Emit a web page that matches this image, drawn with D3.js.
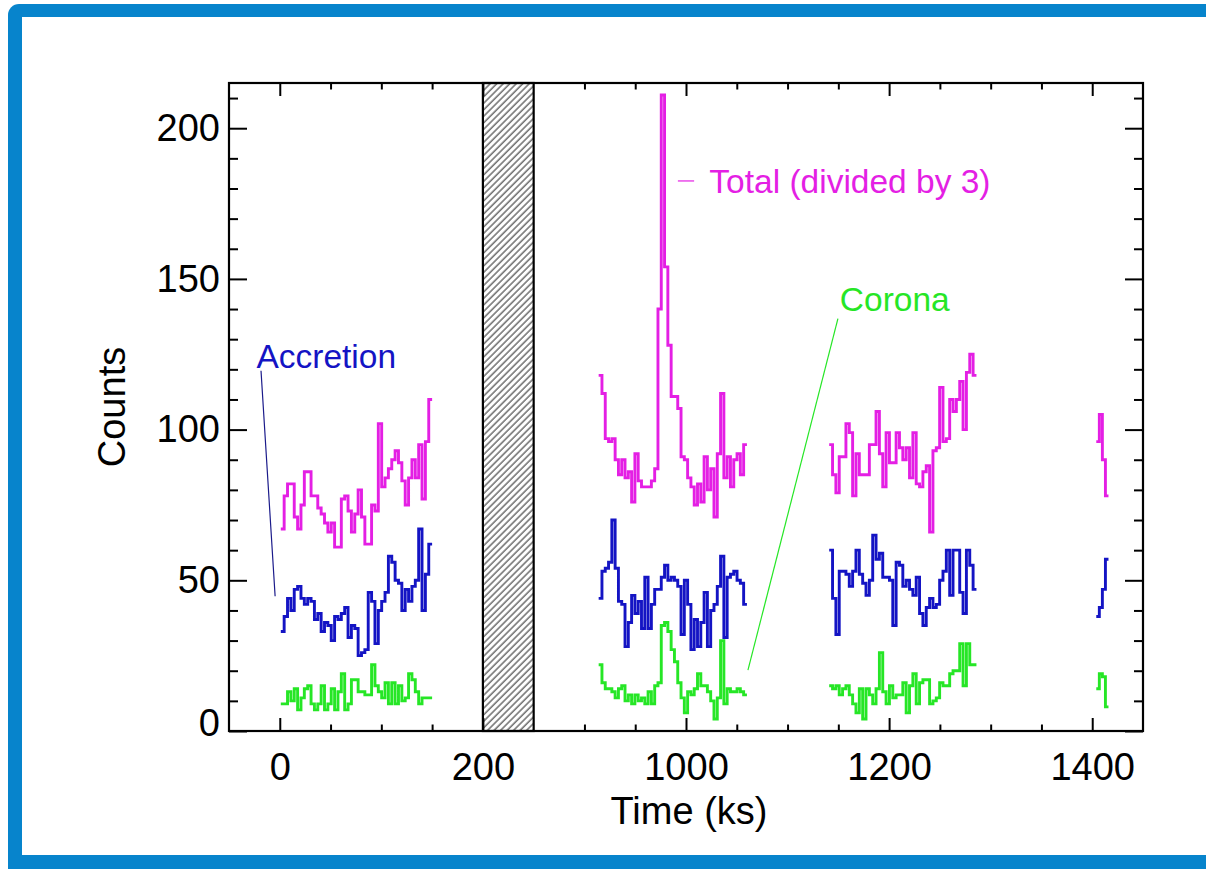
<!DOCTYPE html>
<html>
<head>
<meta charset="utf-8">
<script src="https://cdn.jsdelivr.net/npm/d3@7"></script>
<style>
  html, body { margin: 0; padding: 0; background: #fff; }
  svg { display: block; }
  text { font-family: "Liberation Sans", Arial, Helvetica, sans-serif; }
</style>
</head>
<body>
<svg id="chart" width="1206" height="869"></svg>
<script>
// Light-curve segments (start, end) in ks
const segmentSpans = [[1, 150], [914, 1060], [1141, 1286], [1404, 1416]];

// Total counts (already divided by 3), one array per segment
const totalSeg1 = [67, 78, 82, 82, 71, 67, 75, 86, 86, 78, 78, 74, 72, 69, 66, 69, 61, 61, 77, 78, 73, 66, 72, 80, 71, 62, 62, 75, 73, 102, 81, 84, 87, 90, 93, 89, 83, 75, 84, 90, 84, 95, 77, 96, 110];
const totalSeg2 = [118, 112, 97, 96, 97, 90, 85, 90, 84, 86, 76, 92, 83, 81, 81, 81, 83, 87, 140, 211, 154, 128, 111, 111, 107, 91, 90, 84, 81, 75, 82, 76, 91, 80, 87, 71, 92, 112, 84, 91, 81, 90, 92, 85, 95];
const totalSeg3 = [95, 85, 79, 91, 91, 102, 99, 78, 92, 85, 85, 85, 95, 95, 106, 92, 81, 99, 89, 89, 99, 94, 90, 94, 84, 99, 82, 81, 86, 88, 66, 93, 94, 114, 96, 97, 110, 106, 110, 116, 100, 119, 125, 118];
const totalSeg4 = [96, 105, 90, 78];

// Accretion counts
const accretionSeg1 = [33, 38, 44, 40, 47, 48, 44, 42, 44, 43, 37, 39, 33, 36, 35, 30, 38, 37, 39, 41, 31, 35, 34, 25, 26, 27, 46, 43, 29, 40, 43, 46, 58, 56, 50, 49, 40, 47, 43, 48, 50, 67, 40, 52, 62];
const accretionSeg2 = [44, 53, 54, 56, 70, 54, 43, 42, 28, 36, 45, 39, 43, 34, 51, 34, 42, 47, 47, 51, 55, 50, 51, 50, 48, 32, 50, 42, 27, 37, 28, 36, 46, 28, 40, 42, 48, 58, 31, 51, 52, 53, 50, 49, 42];
const accretionSeg3 = [60, 44, 32, 53, 53, 52, 48, 53, 60, 52, 49, 45, 50, 65, 57, 59, 51, 51, 50, 35, 56, 55, 48, 50, 47, 45, 51, 39, 35, 41, 44, 41, 42, 50, 53, 60, 45, 60, 60, 46, 39, 60, 55, 47];
const accretionSeg4 = [38, 41, 47, 57];

// Corona counts
const coronaSeg1 = [9, 9, 13, 10, 14, 7, 11, 14, 15, 9, 7, 9, 15, 7, 9, 14, 7, 13, 19, 7, 9, 17, 17, 13, 13, 12, 12, 22, 15, 13, 11, 16, 9, 16, 9, 15, 10, 11, 19, 17, 13, 9, 11, 11, 11];
const coronaSeg2 = [22, 16, 14, 14, 13, 11, 14, 15, 10, 12, 9, 12, 10, 11, 9, 13, 9, 15, 16, 35, 36, 33, 27, 23, 16, 11, 6, 13, 12, 14, 19, 15, 15, 13, 10, 4, 11, 30, 9, 14, 13, 13, 14, 13, 12];
const coronaSeg3 = [15, 14, 15, 12, 14, 15, 12, 9, 6, 14, 4, 14, 12, 9, 14, 26, 13, 9, 15, 11, 12, 12, 16, 6, 15, 19, 9, 16, 17, 17, 9, 10, 11, 16, 15, 15, 19, 20, 20, 29, 15, 29, 22, 22];
const coronaSeg4 = [14, 19, 18, 8];

// Axis ticks (time axis has a gap between 200 and 850 ks)
const xMajorTicks = [0, 200, 1000, 1200, 1400];
const xMinorTicks = [50, 100, 150, 900, 950, 1050, 1100, 1150, 1250, 1300, 1350];
const yMajorTicks = [0, 50, 100, 150, 200];
const yMinorTicks = [10, 20, 30, 40, 60, 70, 80, 90, 110, 120, 130, 140, 160, 170, 180, 190, 210];
const gapSpan = [200, 850];

const series = [
  { name: "Total (divided by 3)", color: "#e41fe4", segs: [totalSeg1, totalSeg2, totalSeg3, totalSeg4] },
  { name: "Accretion", color: "#1414c4", segs: [accretionSeg1, accretionSeg2, accretionSeg3, accretionSeg4] },
  { name: "Corona", color: "#26e626", segs: [coronaSeg1, coronaSeg2, coronaSeg3, coronaSeg4] }
];

const svg = d3.select("#chart");

// frame around the figure
svg.append("rect").attr("x", 8).attr("y", 4).attr("width", 1220).attr("height", 880)
  .attr("rx", 11).attr("fill", "#0784cc");
svg.append("rect").attr("x", 22).attr("y", 17).attr("width", 1200).attr("height", 838)
  .attr("fill", "#ffffff");

const plot = { left: 229, right: 1143, top: 83, bottom: 731 };

// broken time axis: the gap 200..850 ks is compressed to a 50 ks wide hatched band
const x = d3.scaleLinear()
  .domain([-50, 200, 850, 1450])
  .range([plot.left, plot.left + 250 * 914 / 900, plot.left + 300 * 914 / 900, plot.right]);
const y = d3.scaleLinear().domain([0, 215]).range([plot.bottom, plot.top]);

// hatch pattern for the data gap
const defs = svg.append("defs");
const pat = defs.append("pattern").attr("id", "hatch")
  .attr("patternUnits", "userSpaceOnUse").attr("width", 4.6).attr("height", 4.6)
  .attr("patternTransform", "rotate(45)");
pat.append("line").attr("x1", 1).attr("y1", 0).attr("x2", 1).attr("y2", 4.6)
  .attr("stroke", "#222").attr("stroke-width", 1);

svg.append("rect")
  .attr("x", x(gapSpan[0])).attr("y", plot.top)
  .attr("width", x(gapSpan[1]) - x(gapSpan[0])).attr("height", plot.bottom - plot.top)
  .attr("fill", "url(#hatch)").attr("stroke", "#000").attr("stroke-width", 2.2);

// step curves
const line = d3.line().x(d => x(d[0])).y(d => y(d[1])).curve(d3.curveStepAfter);
series.forEach(s => {
  s.segs.forEach((vals, i) => {
    const [t0, t1] = segmentSpans[i];
    const w = (t1 - t0) / vals.length;
    const pts = vals.map((v, j) => [t0 + j * w, v]);
    pts.push([t1, vals[vals.length - 1]]);
    svg.append("path").datum(pts)
      .attr("d", line)
      .attr("fill", "none")
      .attr("stroke", s.color)
      .attr("stroke-width", 2.9)
      .attr("stroke-linejoin", "miter");
  });
});

// axes (ticks point inward on all four sides)
const xLen = 13, yLen = 18;
function styleAxis(g) {
  g.select(".domain").remove();
  g.selectAll("line").attr("stroke", "#000").attr("stroke-width", 2);
  g.selectAll("text").attr("fill", "#000").style("font-size", "38px")
    .style("font-family", '"Liberation Sans", Arial, sans-serif');
}
svg.append("g").attr("transform", `translate(0,${plot.bottom})`)
  .call(d3.axisBottom(x).tickValues(xMajorTicks).tickSizeInner(-xLen).tickSizeOuter(0).tickPadding(22).tickFormat(d3.format("d")))
  .call(styleAxis);
svg.append("g").attr("transform", `translate(0,${plot.bottom})`)
  .call(d3.axisBottom(x).tickValues(xMinorTicks).tickSizeInner(-xLen / 2).tickSizeOuter(0).tickFormat(""))
  .call(styleAxis);
svg.append("g").attr("transform", `translate(0,${plot.top})`)
  .call(d3.axisTop(x).tickValues(xMajorTicks).tickSizeInner(-xLen).tickSizeOuter(0).tickFormat(""))
  .call(styleAxis);
svg.append("g").attr("transform", `translate(0,${plot.top})`)
  .call(d3.axisTop(x).tickValues(xMinorTicks).tickSizeInner(-xLen / 2).tickSizeOuter(0).tickFormat(""))
  .call(styleAxis);

const yAxisG = svg.append("g").attr("transform", `translate(${plot.left},0)`)
  .call(d3.axisLeft(y).tickValues(yMajorTicks).tickSizeInner(-yLen).tickSizeOuter(0).tickPadding(9).tickFormat(d3.format("d")))
  .call(styleAxis);
// the bottom label sits slightly above its tick so it clears the time axis
yAxisG.selectAll(".tick").filter(d => d === 0).select("text").attr("y", -8);
svg.append("g").attr("transform", `translate(${plot.left},0)`)
  .call(d3.axisLeft(y).tickValues(yMinorTicks).tickSizeInner(-yLen / 2).tickSizeOuter(0).tickFormat(""))
  .call(styleAxis);
svg.append("g").attr("transform", `translate(${plot.right},0)`)
  .call(d3.axisRight(y).tickValues(yMajorTicks).tickSizeInner(-yLen).tickSizeOuter(0).tickFormat(""))
  .call(styleAxis);
svg.append("g").attr("transform", `translate(${plot.right},0)`)
  .call(d3.axisRight(y).tickValues(yMinorTicks).tickSizeInner(-yLen / 2).tickSizeOuter(0).tickFormat(""))
  .call(styleAxis);

// plot frame
svg.append("rect").attr("x", plot.left).attr("y", plot.top)
  .attr("width", plot.right - plot.left).attr("height", plot.bottom - plot.top)
  .attr("fill", "none").attr("stroke", "#000").attr("stroke-width", 2.2);

// axis titles
svg.append("text").attr("x", 689).attr("y", 824).attr("text-anchor", "middle")
  .style("font-size", "38px").text("Time (ks)");
svg.append("text").attr("transform", "translate(125,407) rotate(-90)").attr("text-anchor", "middle")
  .style("font-size", "38px").text("Counts");

// series annotations with leader lines (positions in data units)
const annFont = "33.5px";
// Accretion
svg.append("text").attr("x", x(-23)).attr("y", y(120.5)).attr("fill", "#1414c4")
  .style("font-size", annFont).text("Accretion");
svg.append("line").attr("x1", x(-18.5)).attr("y1", y(119.5)).attr("x2", x(-4.6)).attr("y2", y(44.7))
  .attr("stroke", "#1a1a8a").attr("stroke-width", 1.2);
// Total
svg.append("line").attr("x1", x(992)).attr("y1", y(182.5)).attr("x2", x(1008)).attr("y2", y(182.5))
  .attr("stroke", "#e41fe4").attr("stroke-width", 1.2);
svg.append("text").attr("x", x(1023)).attr("y", y(178.5)).attr("fill", "#e41fe4")
  .style("font-size", annFont).text("Total (divided by 3)");
// Corona
svg.append("text").attr("x", x(1151.5)).attr("y", y(139.5)).attr("fill", "#26e626")
  .style("font-size", annFont).text("Corona");
svg.append("line").attr("x1", x(1149.6)).attr("y1", y(136.8)).attr("x2", x(1061)).attr("y2", y(20.2))
  .attr("stroke", "#26e626").attr("stroke-width", 1.2);
</script>
</body>
</html>
